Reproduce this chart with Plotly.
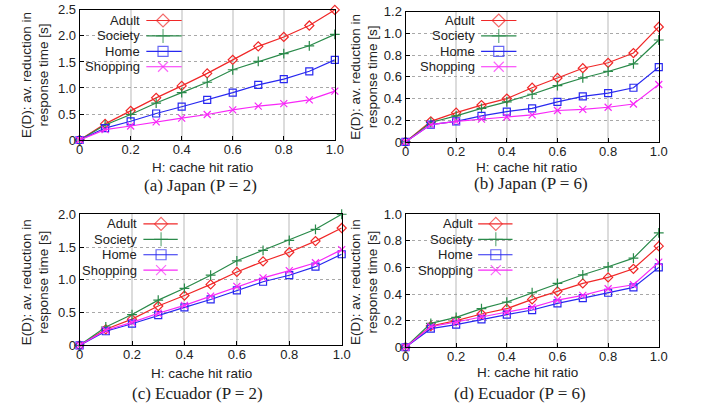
import plotly.graph_objects as go

W, H = 709, 416

# ---------------- data ----------------
hit_ratio = [0, 0.1, 0.2, 0.3, 0.4, 0.5, 0.6, 0.7, 0.8, 0.9, 1.0]
categories = ["Adult", "Society", "Home", "Shopping"]

japan_p2_adult = [0, 0.31, 0.56, 0.81, 1.04, 1.28, 1.54, 1.80, 1.98, 2.20, 2.50]
japan_p2_society = [0, 0.29, 0.49, 0.71, 0.91, 1.11, 1.35, 1.51, 1.66, 1.81, 2.03]
japan_p2_home = [0, 0.23, 0.36, 0.51, 0.64, 0.77, 0.91, 1.06, 1.17, 1.32, 1.54]
japan_p2_shopping = [0, 0.20, 0.27, 0.35, 0.42, 0.49, 0.58, 0.65, 0.70, 0.77, 0.94]

japan_p6_adult = [0, 0.19, 0.27, 0.34, 0.40, 0.50, 0.59, 0.68, 0.73, 0.82, 1.06]
japan_p6_society = [0, 0.18, 0.24, 0.31, 0.37, 0.44, 0.52, 0.59, 0.65, 0.72, 0.94]
japan_p6_home = [0, 0.16, 0.19, 0.24, 0.28, 0.31, 0.37, 0.42, 0.45, 0.50, 0.69]
japan_p6_shopping = [0, 0.16, 0.19, 0.21, 0.23, 0.25, 0.29, 0.30, 0.32, 0.35, 0.53]

ecuador_p2_adult = [0, 0.245, 0.40, 0.60, 0.76, 0.93, 1.12, 1.28, 1.42, 1.59, 1.79]
ecuador_p2_society = [0, 0.28, 0.47, 0.69, 0.87, 1.07, 1.29, 1.45, 1.60, 1.77, 2.00]
ecuador_p2_home = [0, 0.215, 0.33, 0.46, 0.58, 0.70, 0.84, 0.97, 1.07, 1.20, 1.39]
ecuador_p2_shopping = [0, 0.23, 0.35, 0.49, 0.61, 0.75, 0.90, 1.03, 1.14, 1.26, 1.46]

ecuador_p6_adult = [0, 0.16, 0.20, 0.25, 0.29, 0.36, 0.42, 0.48, 0.525, 0.59, 0.76]
ecuador_p6_society = [0, 0.18, 0.225, 0.29, 0.34, 0.41, 0.48, 0.545, 0.605, 0.67, 0.86]
ecuador_p6_home = [0, 0.14, 0.17, 0.21, 0.245, 0.28, 0.33, 0.37, 0.41, 0.45, 0.60]
ecuador_p6_shopping = [0, 0.155, 0.19, 0.23, 0.265, 0.30, 0.355, 0.39, 0.44, 0.47, 0.64]

x_tickvals = [0, 0.2, 0.4, 0.6, 0.8, 1.0]
x_ticktext = ["0", "0.2", "0.4", "0.6", "0.8", "1.0"]
yticks_a = [0, 0.5, 1.0, 1.5, 2.0, 2.5]
yticktext_a = ["0", "0.5", "1.0", "1.5", "2.0", "2.5"]
yticks_b = [0, 0.2, 0.4, 0.6, 0.8, 1.0, 1.2]
yticktext_b = ["0", "0.2", "0.4", "0.6", "0.8", "1.0", "1.2"]
yticks_c = [0, 0.5, 1.0, 1.5, 2.0]
yticktext_c = ["0", "0.5", "1.0", "1.5", "2.0"]
yticks_d = [0, 0.2, 0.4, 0.6, 0.8, 1.0]
yticktext_d = ["0", "0.2", "0.4", "0.6", "0.8", "1.0"]

captions = ["(a) Japan (P = 2)", "(b) Japan (P = 6)",
            "(c) Ecuador (P = 2)", "(d) Ecuador (P = 6)"]
x_title = "H: cache hit ratio"
y_title = "E(D): av. reduction in<br>response time [s]"

# ---------------- styles ----------------
colors = {"Adult": "#f02828", "Society": "#2a8a4a", "Home": "#2828f0", "Shopping": "#f828f8"}
symbols = {"Adult": "diamond-open", "Society": "cross-thin-open",
           "Home": "square-open", "Shopping": "x-thin-open"}
msize = {"Adult": 7, "Society": 7, "Home": 7, "Shopping": 7}
lsize = {"Adult": 10, "Society": 10, "Home": 10, "Shopping": 10}

SANS = "Liberation Sans, Arial, sans-serif"
SERIF = "Liberation Serif, Times New Roman, serif"

# panel pixel boxes: (left, right, top, bottom) and text positions
panels = [
    dict(box=(77, 337, 3, 138), series=[japan_p2_adult, japan_p2_society, japan_p2_home, japan_p2_shopping],
         yr=2.5, yt=yticks_a, ytt=yticktext_a, ytitle=(32, 70), xtitle=(202, 166), cap=(200, 185),
         leg=(141, 145, 181, 162, [14, 30, 46, 62])),
    dict(box=(409, 667, 5, 140), series=[japan_p6_adult, japan_p6_society, japan_p6_home, japan_p6_shopping],
         yr=1.2, yt=yticks_b, ytt=yticktext_b, ytitle=(367, 72), xtitle=(532, 167), cap=(537, 183),
         leg=(482, 486, 522, 504, [14, 30, 46, 62])),
    dict(box=(77, 344, 215, 351), series=[ecuador_p2_adult, ecuador_p2_society, ecuador_p2_home, ecuador_p2_shopping],
         yr=2.0, yt=yticks_c, ytt=yticktext_c, ytitle=(32, 285), xtitle=(201, 380), cap=(197, 401),
         leg=(138, 142, 177, 160, [225, 241, 257, 273])),
    dict(box=(409, 667, 215, 353), series=[ecuador_p6_adult, ecuador_p6_society, ecuador_p6_home, ecuador_p6_shopping],
         yr=1.0, yt=yticks_d, ytt=yticktext_d, ytitle=(367, 285), xtitle=(533, 379), cap=(526, 401),
         leg=(480, 483, 518, 501, [225, 241, 257, 273])),
]

def px(x):
    return x / W

def py(y):
    return 1 - y / H

fig = go.Figure()
annotations = []
layout_axes = {}

for i, p in enumerate(panels, start=1):
    xa = "x" if i == 1 else f"x{i}"
    ya = "y" if i == 1 else f"y{i}"
    l, r, t, b = p["box"]
    layout_axes["xaxis" if i == 1 else f"xaxis{i}"] = dict(
        domain=[px(l), px(r)], anchor=ya, range=[0, 1],
        tickvals=x_tickvals, ticktext=x_ticktext,
        showline=True, mirror=True, linecolor="#000", linewidth=1,
        ticks="inside", ticklen=4, tickcolor="#000", ticklabelstandoff=-3,
        showgrid=True, gridcolor="#dcdcdc", gridwidth=2,
        zeroline=False, tickfont=dict(family=SANS, size=13, color="#222"),
        fixedrange=True,
    )
    layout_axes["yaxis" if i == 1 else f"yaxis{i}"] = dict(
        domain=[py(b), py(t)], anchor=xa, range=[0, p["yr"]],
        tickvals=p["yt"], ticktext=p["ytt"],
        showline=True, mirror=True, linecolor="#000", linewidth=1,
        ticks="inside", ticklen=4, tickcolor="#000",
        showgrid=True, gridcolor="#a8a8a8", gridwidth=1, griddash="dot",
        zeroline=False, tickfont=dict(family=SANS, size=13, color="#222"),
        fixedrange=True,
    )
    for name, vals in zip(categories, p["series"]):
        fig.add_trace(go.Scatter(
            x=hit_ratio, y=vals, mode="lines+markers", xaxis=xa, yaxis=ya,
            line=dict(color=colors[name], width=1.2),
            marker=dict(symbol=symbols[name], size=msize[name], color=colors[name],
                        line=dict(color=colors[name], width=1.2)),
            cliponaxis=False, showlegend=False, name=name,
        ))
    # custom legend: label on the left, line sample with marker on the right
    tx, lx0, lx1, mx, rows = p["leg"]
    for name, ry in zip(categories, rows):
        annotations.append(dict(
            x=px(tx), y=py(ry), xref="paper", yref="paper", text=name, showarrow=False,
            xanchor="right", yanchor="middle", font=dict(family=SANS, size=13, color="#222"),
        ))
        fig.add_trace(go.Scatter(
            x=[lx0, mx, lx1], y=[ry, ry, ry], mode="lines+markers",
            xaxis="x5", yaxis="y5",
            line=dict(color=colors[name], width=1.2),
            marker=dict(symbol=symbols[name], size=[0, lsize[name], 0], color=colors[name],
                        line=dict(color=colors[name], width=1.2)),
            cliponaxis=False, showlegend=False, hoverinfo="skip",
        ))
    yx, yy = p["ytitle"]
    annotations.append(dict(
        x=px(yx), y=py(yy), xref="paper", yref="paper", text=y_title, showarrow=False,
        textangle=-90, xanchor="center", yanchor="middle",
        font=dict(family=SANS, size=13.5, color="#222"),
    ))
    xx, xy = p["xtitle"]
    annotations.append(dict(
        x=px(xx), y=py(xy), xref="paper", yref="paper", text=x_title, showarrow=False,
        xanchor="center", yanchor="middle", font=dict(family=SANS, size=13.5, color="#222"),
    ))
    cx, cy = p["cap"]
    annotations.append(dict(
        x=px(cx), y=py(cy), xref="paper", yref="paper", text=captions[i - 1], showarrow=False,
        xanchor="center", yanchor="middle", font=dict(family=SERIF, size=17, color="#222"),
    ))

# overlay axis in pixel units for the legend samples
layout_axes["xaxis5"] = dict(domain=[0, 1], range=[0, W], visible=False, anchor="y5", fixedrange=True)
layout_axes["yaxis5"] = dict(domain=[0, 1], range=[H, 0], visible=False, anchor="x5", fixedrange=True)

fig.update_layout(
    width=W, height=H,
    margin=dict(l=0, r=0, t=0, b=0),
    paper_bgcolor="white", plot_bgcolor="rgba(0,0,0,0)",
    annotations=annotations,
    **layout_axes,
)

fig.write_html("out.html", config={"displayModeBar": False},
               post_script="document.body.style.margin='0';document.body.style.overflow='hidden';")
